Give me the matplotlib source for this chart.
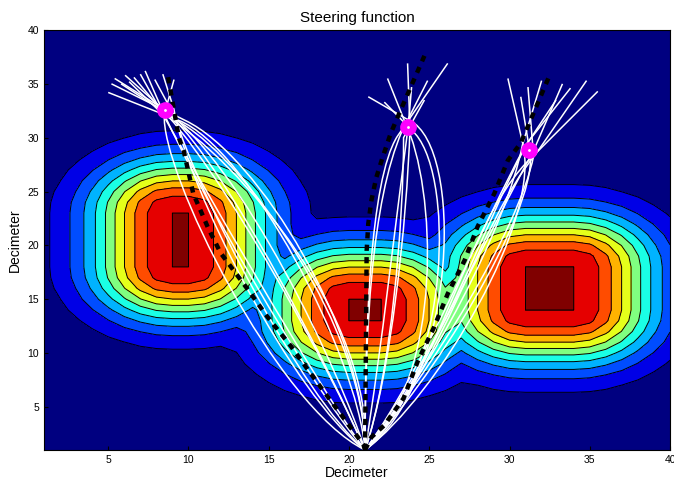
import numpy as np
import matplotlib
matplotlib.use('Agg')
import matplotlib.pyplot as plt
from matplotlib.path import Path
from matplotlib.patches import PathPatch

plt.rcParams['font.family'] = ['Liberation Sans', 'DejaVu Sans']

# obstacles (rectangles) and field decay
rect_x0 = [9, 20, 31]
rect_x1 = [10, 22, 34]
rect_y0 = [18, 13, 14]
rect_y1 = [23, 15, 18]
decay = 5.0

# start point and targets
start = (21.0, 1.0)
target_x = [8.55, 23.65, 31.2]
target_y = [32.6, 31.0, 28.9]

# dashed reference paths
dash1_x = [21.0, 20.9, 20.1, 18.2, 16.4, 14.9, 13.7, 12.0, 11.2, 10.3, 9.7, 9.4, 8.7]
dash1_y = [1.0, 1.5, 3.1, 6.9, 10.6, 13.4, 15.9, 19.3, 21.7, 24.8, 28.8, 30.0, 35.9]
dash2_x = [21.0, 21.05, 21.1, 21.2, 21.4, 21.7, 22.1, 22.6, 23.2, 24.7]
dash2_y = [1.0, 10.0, 19.5, 22.0, 24.2, 26.3, 28.2, 30.4, 32.5, 37.6]
dash3_x = [21.0, 21.4, 22.2, 23.4, 24.3, 25.3, 26.15, 27.2, 28.0, 29.05, 29.9, 30.7, 32.5]
dash3_y = [1.0, 2.2, 3.3, 5.8, 9.3, 12.4, 15.5, 18.6, 21.7, 24.8, 27.9, 29.5, 35.8]

# trajectories: (control 1, control 2, crossing near target, end point)
traj1 = [
    ((19.5, 8), (13.4, 27.75), (8.2, 32.9), (5.4, 35.5)),
    ((19, 8), (12.4, 27.2), (8.9, 32.0), (6.05, 35.8)),
    ((20.5, 10), (13.7, 29.1), (9.4, 31.6), (5.0, 34.2)),
    ((17.5, 7), (10.3, 26.0), (8.3, 32.8), (7.3, 36.2)),
    ((17, 6), (10.5, 25.2), (9.2, 31.8), (7.9, 35.4)),
    ((16.5, 6), (9.9, 25.4), (9.1, 32.6), (8.4, 35.9)),
    ((19, 8), (12.0, 27.5), (7.9, 33.3), (6.6, 35.6)),
    ((21, 12), (13.8, 27.5), (9.6, 31.3), (5.8, 35.0)),
    ((15.5, 5), (8.2, 27.0), (8.5, 32.2), (9.1, 35.4)),
    ((21.5, 13), (13.3, 27.9), (8.3, 32.3), (6.3, 35.2)),
    ((21, 12), (14.4, 28.3), (9.8, 31.6), (5.2, 35.0)),
    ((18, 7), (10.6, 26.3), (8.2, 32.7), (7.0, 35.9)),
]
traj2 = [
    ((21, 12), (21.4, 24.05), (23.3, 30.6), (24.9, 35.3)),
    ((21, 12), (21.3, 26.0), (23.0, 30.1), (26.15, 36.9)),
    ((22.6, 8), (23.6, 22), (23.8, 30.9), (23.65, 36.9)),
    ((22.6, 8), (23.4, 22), (23.4, 30.0), (24.7, 33.5)),
    ((26.5, 7), (27.2, 27.6), (24.1, 31.3), (21.2, 33.8)),
    ((26.5, 8), (26.6, 27.3), (23.9, 30.7), (22.2, 33.3)),
    ((26, 8), (25.4, 25.6), (23.5, 31.4), (22.4, 35.5)),
    ((22, 10), (23.0, 23.3), (23.7, 31.2), (23.9, 34.7)),
]
traj3 = [
    ((25.5, 6), (32.1, 22.5), (30.8, 29.6), (29.9, 35.5)),
    ((25, 7), (31.6, 22.8), (31.3, 28.4), (30.7, 33.8)),
    ((25, 8), (30.6, 21.5), (31.5, 28.3), (31.15, 34.7)),
    ((25, 8), (29.8, 21.7), (30.8, 29.3), (32.0, 35.3)),
    ((25, 9), (28.9, 21.8), (31.5, 28.8), (33.3, 35.0)),
    ((25.5, 9), (28.5, 22.2), (31.1, 29.5), (33.8, 34.6)),
    ((26, 9), (28.0, 21.9), (31.6, 28.4), (34.8, 35.3)),
    ((26, 9), (27.1, 21.3), (31.0, 27.6), (35.5, 34.3)),
    ((24.5, 8), (28.65, 23.0), (30.9, 29.0), (32.9, 33.5)),
]


def jet_matlab(t):
    r = np.clip(min(4 * t - 1.5, -4 * t + 4.5), 0, 1)
    g = np.clip(min(4 * t - 0.5, -4 * t + 3.5), 0, 1)
    b = np.clip(min(4 * t + 0.5, -4 * t + 2.5), 0, 1)
    return (r, g, b)


# potential field on grid
X, Y = np.meshgrid(np.arange(1, 41), np.arange(1, 41))
F = np.zeros(X.shape)
for i in range(len(rect_x0)):
    dx = np.maximum(np.maximum(rect_x0[i] - X, X - rect_x1[i]), 0)
    dy = np.maximum(np.maximum(rect_y0[i] - Y, Y - rect_y1[i]), 0)
    d = np.hypot(dx, dy)
    F = np.maximum(F, np.exp(-(d / decay) ** 2))

fig = plt.figure(figsize=(6.74, 4.86), dpi=100)
ax = fig.add_axes([0.0653, 0.0741, 0.9288, 0.8642])

line_levels = [0.1, 0.2, 0.3, 0.4, 0.5, 0.6, 0.7, 0.8, 0.9, 0.9999]
fill_levels = [-1] + line_levels + [2]
fill_colors = [jet_matlab(k / 10.0) for k in range(11)]
ax.contourf(X, Y, F, levels=fill_levels, colors=fill_colors)
ax.contour(X, Y, F, levels=line_levels, colors='k', linewidths=0.7)

codes = [Path.MOVETO, Path.CURVE4, Path.CURVE4, Path.CURVE4, Path.LINETO]
for group in [traj1, traj2, traj3]:
    for c1, c2, m, end in group:
        p = Path([start, c1, c2, m, end], codes)
        ax.add_patch(PathPatch(p, fill=False, edgecolor='white', lw=1.1, zorder=3))

for dx_, dy_ in [(dash1_x, dash1_y), (dash2_x, dash2_y), (dash3_x, dash3_y)]:
    ax.plot(dx_, dy_, color='black', lw=3.2, dashes=(1.4, 1.4), zorder=4)

ax.plot(target_x, target_y, 'o', color='magenta', markersize=11, zorder=5)
ax.plot(target_x, target_y, '.', color='white', markersize=2, zorder=6)

ax.set_xlim(1, 40)
ax.set_ylim(1, 40)
ax.set_xticks([5, 10, 15, 20, 25, 30, 35, 40])
ax.set_yticks([5, 10, 15, 20, 25, 30, 35, 40])
ax.tick_params(direction='in', labelsize=7.5, length=3)
ax.set_xlabel('Decimeter', fontsize=10, labelpad=1)
ax.set_ylabel('Decimeter', fontsize=10, labelpad=4)
ax.set_title('Steering function', fontsize=11, pad=6)

fig.savefig('out.png', dpi=100)
